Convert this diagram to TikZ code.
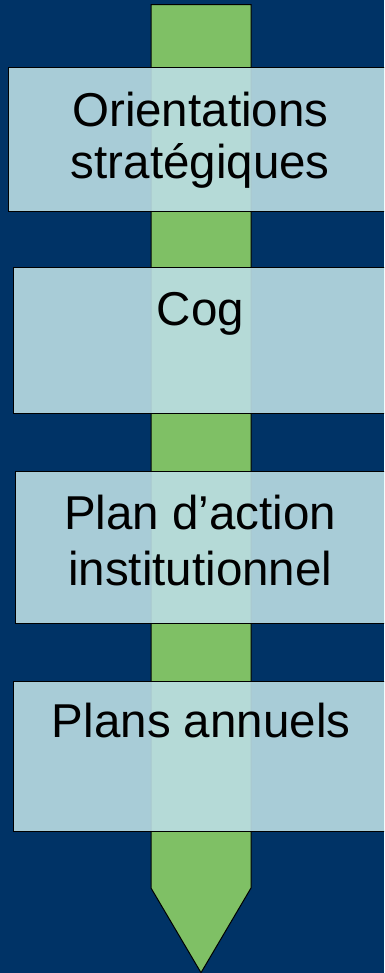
\documentclass[tikz,border=0pt]{standalone}
\usepackage{fontspec}
\setmainfont{Liberation Sans}
\definecolor{bgblue}{RGB}{0,51,102}
\definecolor{arrowgreen}{RGB}{127,192,101}
\definecolor{boxfill}{RGB}{187,221,228}
\tikzset{
  boxshape/.style={draw=black, line width=1pt, fill=boxfill, fill opacity=0.9, rectangle, inner sep=0pt},
  label/.style={anchor=base, font=\fontsize{47.5}{56}\selectfont, text=black, inner sep=0pt},
}
\begin{document}
\begin{tikzpicture}[x=1pt,y=-1pt]
\useasboundingbox (0,0) rectangle (384,973);
\clip (0,0) rectangle (384,973);
\fill[bgblue] (0,0) rectangle (384,973);
% arrow
\coordinate (atl) at (151,4.7);
\coordinate (atr) at (251,4.7);
\coordinate (abr) at (251,888);
\coordinate (atip) at (201,972.7);
\coordinate (abl) at (151,888);
\draw[fill=arrowgreen, draw=black, line width=1pt, line join=miter] (atl) -- (atr) -- (abr) -- (atip) -- (abl) -- cycle;
% boxes
\node[boxshape, minimum width=385pt, minimum height=143.7pt] (b1) at (201.2,139.2) {};
\node[boxshape, minimum width=375pt, minimum height=146pt] (b2) at (201.2,340.3) {};
\node[boxshape, minimum width=371pt, minimum height=152pt] (b3) at (201.2,547.7) {};
\node[boxshape, minimum width=376pt, minimum height=149.7pt] (b4) at (201.2,756.2) {};
% labels
\node[label] (t1a) at (200.3,126.7) {Orientations};
\node[label] (t1b) at (200.3,178.3) {stratégiques};
\node[label] (t2) at (200.5,325) {Cog};
\node[label] (t3a) at (200.3,529.3) {Plan d’action};
\node[label] (t3b) at (200.3,585.7) {institutionnel};
\node[label] (t4) at (201.2,737.7) {Plans annuels};
\end{tikzpicture}
\end{document}
